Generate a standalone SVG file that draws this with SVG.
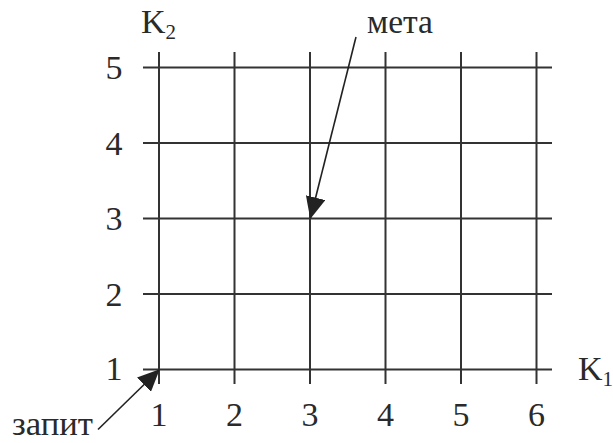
<svg xmlns="http://www.w3.org/2000/svg" width="613" height="443" viewBox="0 0 613 443">
<style>
.grid line{stroke:#333;stroke-width:2}
text{font-family:"Liberation Serif","Times New Roman",serif;font-size:34px;fill:#2a2a2a}
.c{text-anchor:middle}
.sub{font-size:21px}
.arr{stroke:#222;stroke-width:1.6;fill:none;marker-end:url(#ah)}
</style>
<defs>
<marker id="ah" viewBox="0 0 22 20" refX="21" refY="10" markerWidth="22" markerHeight="20" markerUnits="userSpaceOnUse" orient="auto">
<path d="M0,0 L22,10 L0,20 z" fill="#222"/>
</marker>
</defs>
<rect width="613" height="443" fill="#fff"/>
<g id="grid" class="grid">
<line x1="143" y1="67.5" x2="552" y2="67.5"/>
<line x1="143" y1="143" x2="552" y2="143"/>
<line x1="143" y1="218.5" x2="552" y2="218.5"/>
<line x1="143" y1="294" x2="552" y2="294"/>
<line x1="143" y1="369.5" x2="552" y2="369.5"/>
<line x1="159" y1="52" x2="159" y2="384"/>
<line x1="234.5" y1="52" x2="234.5" y2="384"/>
<line x1="310" y1="52" x2="310" y2="384"/>
<line x1="385.5" y1="52" x2="385.5" y2="384"/>
<line x1="461" y1="52" x2="461" y2="384"/>
<line x1="536.5" y1="52" x2="536.5" y2="384"/>
</g>
<g id="y-labels">
<text class="c" x="114" y="79">5</text>
<text class="c" x="114" y="154.5">4</text>
<text class="c" x="114" y="230">3</text>
<text class="c" x="114" y="305.5">2</text>
<text class="c" x="114" y="380">1</text>
</g>
<g id="x-labels">
<text class="c" x="159" y="425.5">1</text>
<text class="c" x="234.5" y="425.5">2</text>
<text class="c" x="310" y="425.5">3</text>
<text class="c" x="385.5" y="425.5">4</text>
<text class="c" x="461" y="425.5">5</text>
<text class="c" x="536.5" y="425.5">6</text>
</g>
<g id="axis-k2"><text x="141" y="33">K<tspan class="sub" dy="6">2</tspan></text></g>
<g id="axis-k1"><text x="578" y="380">K<tspan class="sub" dy="6">1</tspan></text></g>
<g id="label-meta"><text x="367" y="33" textLength="66" lengthAdjust="spacingAndGlyphs">мета</text></g>
<g id="label-zapyt"><text x="12" y="435" textLength="81" lengthAdjust="spacingAndGlyphs">запит</text></g>
<g id="connectors">
<line class="arr" x1="356" y1="37" x2="310.5" y2="218"/>
<line class="arr" x1="98" y1="429.5" x2="159" y2="370"/>
</g>
</svg>
